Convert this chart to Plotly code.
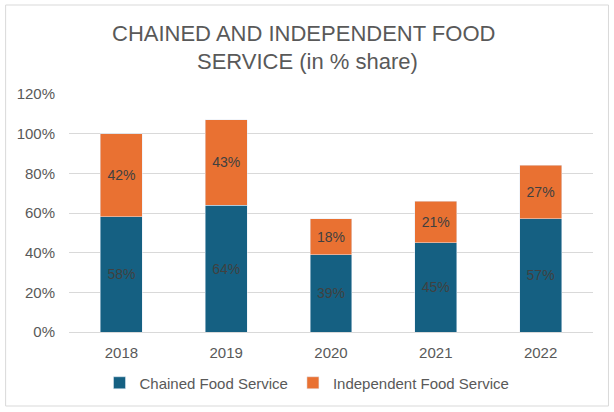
import plotly.graph_objects as go

years = ["2018", "2019", "2020", "2021", "2022"]
chained = [58, 64, 39, 45, 57]
independent = [42, 43, 18, 21, 27]
series_names = ["Chained Food Service", "Independent Food Service"]
title_lines = ["CHAINED AND INDEPENDENT FOOD", "SERVICE (in % share)"]

W, H = 614, 412
L, R, T, B = 68.5, 20.5, 94, 80
pw, ph = W - L - R, H - T - B

fig = go.Figure()
for vals, name, col in [(chained, series_names[0], "#156082"),
                        (independent, series_names[1], "#E97132")]:
    fig.add_trace(go.Bar(x=years, y=vals, name=name, marker_color=col,
                         text=[f"{v}%" for v in vals], texttemplate="%{text}",
                         textposition="inside", insidetextanchor="middle", textangle=0,
                         constraintext="none",
                         textfont=dict(color="#404040", size=14), width=0.4))

def px_x(x):
    return (x - L) / pw

def px_y(y):
    return (H - B - y) / ph

fig.update_layout(
    width=W, height=H, barmode="stack",
    margin=dict(l=L, r=R, t=T, b=B, autoexpand=False),
    paper_bgcolor="white", plot_bgcolor="white",
    font=dict(family="Liberation Sans, Arial, sans-serif", color="#595959", size=15),
    showlegend=True,
    legend=dict(orientation="h", xref="container", yref="container", x=0.5, xanchor="center",
                y=(H - 383) / H, yanchor="middle", font=dict(size=15, color="#595959"),
                traceorder="normal", itemwidth=30),
    shapes=[dict(type="rect", xref="paper", yref="paper",
                 x0=px_x(5), x1=px_x(609), y0=px_y(406), y1=px_y(5),
                 line=dict(color="#D9D9D9", width=1), layer="below")],
    annotations=[
        dict(text=title_lines[0], xref="paper", yref="paper", x=px_x(303), y=px_y(33),
             showarrow=False, font=dict(size=22, color="#595959"), xanchor="center", yanchor="middle"),
        dict(text=title_lines[1], xref="paper", yref="paper", x=px_x(307), y=px_y(61),
             showarrow=False, font=dict(size=22, color="#595959"), xanchor="center", yanchor="middle"),
    ],
)
fig.update_yaxes(range=[0, 120], dtick=20, ticksuffix="%", gridcolor="#D9D9D9", gridwidth=1,
                 zeroline=True, zerolinecolor="#D9D9D9", zerolinewidth=1, showline=False,
                 ticklabelstandoff=13, tickfont=dict(size=15, color="#595959"), fixedrange=True)
fig.update_xaxes(showgrid=False, showline=False, ticks="", ticklabelstandoff=10,
                 tickfont=dict(size=15, color="#595959"), fixedrange=True)

fig.write_html("out.html", config={"displayModeBar": False},
               post_script="document.body.style.margin='0';document.body.style.overflow='hidden';")
